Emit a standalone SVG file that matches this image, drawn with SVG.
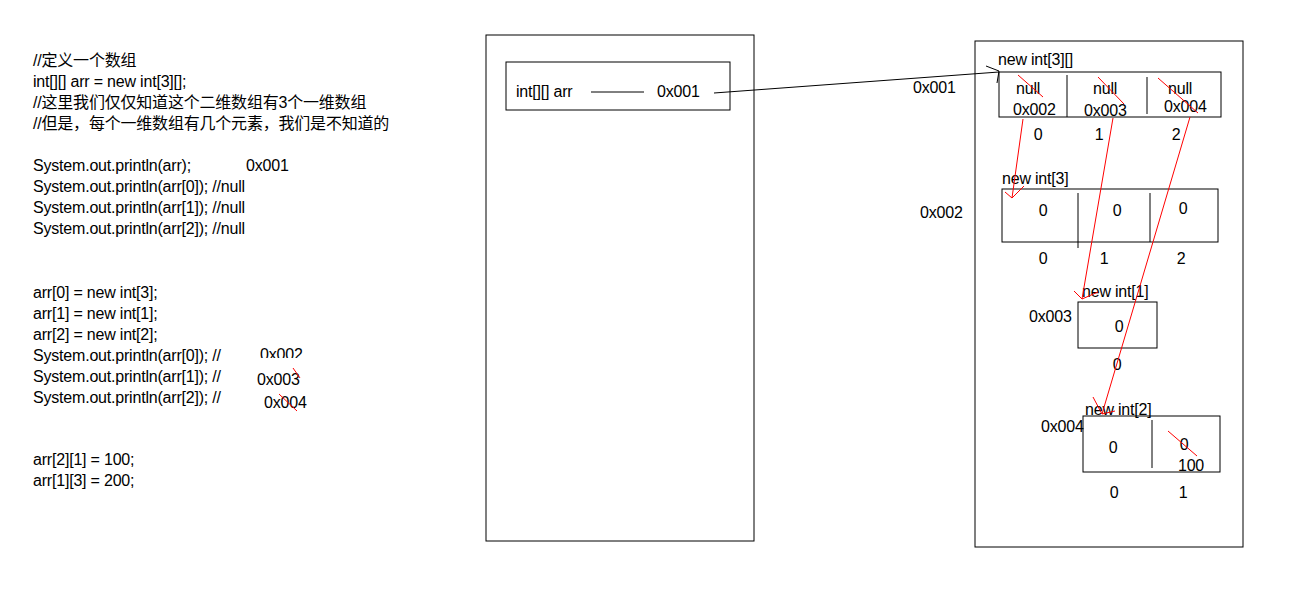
<svg xmlns="http://www.w3.org/2000/svg" width="1294" height="598" viewBox="0 0 1294 598">
<style>
text{font-family:"Liberation Sans",Arial,"Noto Sans CJK SC",sans-serif;font-size:16px;letter-spacing:-0.2px;fill:#000}
.c{text-anchor:middle}
.box{fill:none;stroke:#000;stroke-width:1}
.ln{stroke:#000;stroke-width:1;fill:none}
.red{stroke:#ff0000;stroke-width:1;fill:none}
</style>
<defs>
<clipPath id="clipA"><rect x="240" y="340" width="80" height="18"/></clipPath>
<clipPath id="clipB"><rect x="240" y="373" width="80" height="20"/></clipPath>
</defs>
<rect width="1294" height="598" fill="#fff"/>
<g id="code">
<text x="33" y="66">//定义一个数组</text>
<text x="33" y="87">int[][] arr = new int[3][];</text>
<text x="33" y="108">//这里我们仅仅知道这个二维数组有3个一维数组</text>
<text x="33" y="129">//但是，每个一维数组有几个元素，我们是不知道的</text>
<text x="33" y="171">System.out.println(arr);</text>
<text x="246" y="171">0x001</text>
<text x="33" y="192">System.out.println(arr[0]); //null</text>
<text x="33" y="213">System.out.println(arr[1]); //null</text>
<text x="33" y="234">System.out.println(arr[2]); //null</text>
<text x="33" y="298">arr[0] = new int[3];</text>
<text x="33" y="319">arr[1] = new int[1];</text>
<text x="33" y="340">arr[2] = new int[2];</text>
<text x="33" y="361">System.out.println(arr[0]); //</text>
<text x="33" y="382">System.out.println(arr[1]); //</text>
<text x="33" y="403">System.out.println(arr[2]); //</text>
<text x="260" y="360" clip-path="url(#clipA)">0x002</text>
<text x="257" y="385" clip-path="url(#clipB)">0x003</text>
<line class="red" x1="293" y1="368" x2="300" y2="378"/>
<text x="264" y="408">0x004</text>
<line class="red" x1="279" y1="394" x2="297" y2="411"/>
<text x="33" y="465">arr[2][1] = 100;</text>
<text x="33" y="486">arr[1][3] = 200;</text>
</g>
<g id="stack">
<rect class="box" x="486" y="35" width="268" height="506"/>
</g>
<g id="stack-arr">
<rect class="box" x="506" y="62" width="224" height="48"/>
<text x="516" y="97">int[][] arr</text>
<line class="ln" x1="591" y1="92" x2="644" y2="92"/>
<text x="657" y="97">0x001</text>
</g>
<g id="heap">
<rect class="box" x="975" y="41" width="268" height="506"/>
<text x="913" y="93">0x001</text>
<text x="920" y="218">0x002</text>
<text x="1029" y="322">0x003</text>
<text x="1041" y="432">0x004</text>
</g>
<g id="arr-main">
<text x="998" y="65">new int[3][]</text>
<rect class="box" x="999" y="72" width="222" height="45"/>
<line class="ln" x1="1067" y1="75" x2="1067" y2="117"/>
<line class="ln" x1="1147" y1="77" x2="1147" y2="114"/>
<text x="1016" y="94">null</text>
<text x="1093" y="94">null</text>
<text x="1168" y="94">null</text>
<text x="1013" y="115">0x002</text>
<text x="1084" y="116">0x003</text>
<text x="1164" y="112">0x004</text>
<line class="red" x1="1018" y1="75" x2="1043" y2="97"/>
<line class="red" x1="1098" y1="77" x2="1124" y2="104"/>
<line class="red" x1="1158" y1="78" x2="1198" y2="113"/>
<text x="1038" y="140" class="c">0</text>
<text x="1099" y="140" class="c">1</text>
<text x="1176" y="140" class="c">2</text>
</g>
<g id="arr0">
<text x="1002" y="184">new int[3]</text>
<rect class="box" x="1002" y="189" width="216" height="53"/>
<line class="ln" x1="1078" y1="193" x2="1078" y2="248"/>
<line class="ln" x1="1150" y1="193" x2="1150" y2="242"/>
<text x="1043" y="216" class="c">0</text>
<text x="1117" y="216" class="c">0</text>
<text x="1183" y="214" class="c">0</text>
<text x="1043" y="264" class="c">0</text>
<text x="1104" y="264" class="c">1</text>
<text x="1181" y="264" class="c">2</text>
</g>
<g id="arr1">
<text x="1082" y="297">new int[1]</text>
<rect class="box" x="1078" y="302" width="79" height="46"/>
<text x="1119" y="332" class="c">0</text>
<text x="1117" y="370" class="c">0</text>
</g>
<g id="arr2">
<text x="1085" y="415">new int[2]</text>
<rect class="box" x="1083" y="416" width="137" height="56"/>
<line class="ln" x1="1152" y1="420" x2="1152" y2="468"/>
<text x="1113" y="453" class="c">0</text>
<text x="1184" y="450" class="c">0</text>
<line class="red" x1="1168" y1="431" x2="1197" y2="456"/>
<text x="1191" y="471" class="c">100</text>
<text x="1114" y="498" class="c">0</text>
<text x="1183" y="498" class="c">1</text>
</g>
<g id="connectors">
<polyline class="ln" points="714,93 999,72"/>
<polyline class="ln" points="986,66 999,71 997,83"/>
<line class="red" x1="1023" y1="119" x2="1012" y2="198"/>
<polyline class="red" points="1005,192 1012,198 1024,186"/>
<line class="red" x1="1113" y1="118" x2="1082" y2="299"/>
<polyline class="red" points="1074,291 1082,299 1098,292"/>
<line class="red" x1="1190" y1="117" x2="1102" y2="414"/>
<polyline class="red" points="1093,397 1102,414 1115,411"/>
</g>
</svg>
